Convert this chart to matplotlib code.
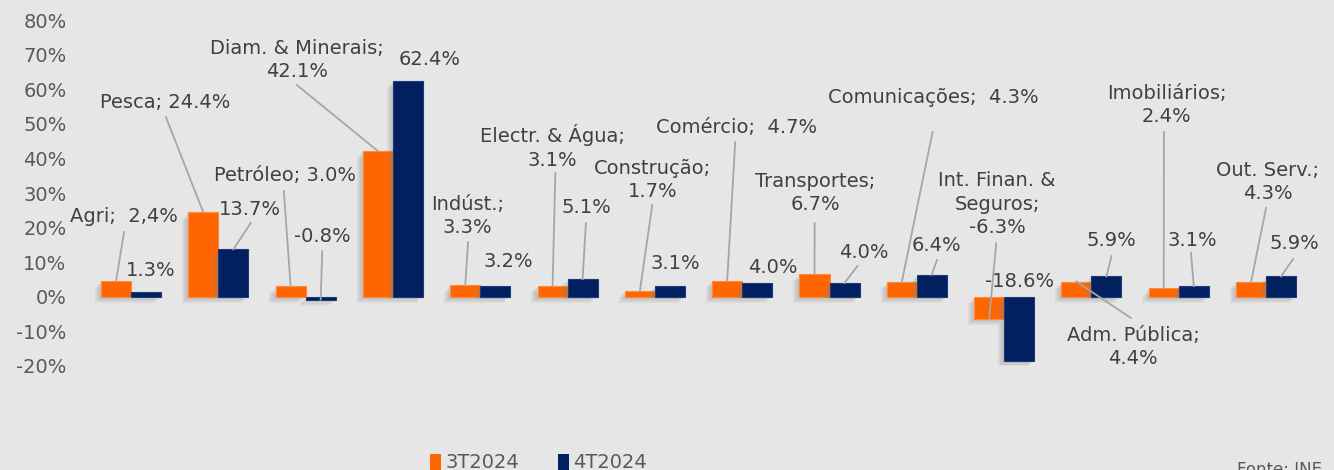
import numpy as np
import matplotlib
matplotlib.use("Agg")
import matplotlib.pyplot as plt
import matplotlib.patheffects as pe
from matplotlib.patches import Patch

# data
categories = ["Agri", "Pesca", "Petróleo", "Diam. & Minerais", "Indúst.", "Electr. & Água",
              "Construção", "Comércio", "Transportes", "Comunicações", "Int. Finan. & Seguros",
              "Adm. Pública", "Imobiliários", "Out. Serv."]
t3_2024 = [4.5, 24.4, 3.0, 42.1, 3.3, 3.1, 1.7, 4.7, 6.7, 4.3, -6.3, 4.4, 2.4, 4.3]
t4_2024 = [1.3, 13.7, -0.8, 62.4, 3.2, 5.1, 3.1, 4.0, 4.0, 6.4, -18.6, 5.9, 3.1, 5.9]

t3_labels = ["Agri;  2,4%", "Pesca; 24.4%", "Petróleo; 3.0%", "Diam. & Minerais;\n42.1%",
             "Indúst.;\n3.3%", "Electr. & Água;\n3.1%", "Construção;\n1.7%", "Comércio;  4.7%",
             "Transportes;\n6.7%", "Comunicações;  4.3%", "Int. Finan. &\nSeguros;\n-6.3%",
             "Adm. Pública;\n4.4%", "Imobiliários;\n2.4%", "Out. Serv.;\n4.3%"]
t4_labels = ["1.3%", "13.7%", "-0.8%", "62.4%", "3.2%", "5.1%", "3.1%", "4.0%", "4.0%",
             "6.4%", "-18.6%", "5.9%", "3.1%", "5.9%"]

# label layout (text centre, start of leader line or None) in data units
t3_pos = [(-0.08, 23.2), (0.39, 56.3), (1.76, 35.2), (1.90, 68.4), (3.85, 23.3), (4.83, 43.3),
          (5.97, 33.8), (6.93, 48.8), (7.84, 30.0), (9.19, 57.5), (9.92, 26.8), (11.48, -14.5),
          (11.86, 55.4), (13.02, 33.2)]
t3_line = [(-0.08, 18.7), (0.40, 51.9), (1.75, 30.6), (1.90, 61.2), (3.86, 15.8), (4.86, 35.8),
           (5.97, 26.5), (6.92, 44.7), (7.83, 21.3), (9.18, 47.6), (9.91, 15.5), (11.45, -6.1),
           (11.83, 47.6), (13.0, 25.7)]
t4_pos = [(0.23, 7.7), (1.36, 25.3), (2.19, 17.3), (3.42, 68.7), (4.32, 10.1), (5.21, 25.7),
          (6.23, 9.5), (7.35, 8.6), (8.39, 12.9), (9.22, 14.7), (10.18, 4.3), (11.23, 16.4),
          (12.15, 16.4), (13.32, 15.5)]
t4_line = [None, (1.37, 21.3), (2.19, 13.2), None, None, (5.21, 21.3), None, None,
           (8.32, 8.9), (9.23, 10.6), None, (11.23, 11.8), (12.14, 12.7), (13.31, 10.9)]

orange = "#ff6600"
navy = "#002060"
bg = "#e6e6e6"
txt = "#404040"
lead = "#a6a6a6"

fig = plt.figure(figsize=(13.34, 4.70), dpi=100, facecolor=bg)
ax = fig.add_axes([0.0655, 0.2213, 0.9163, 0.7361])
ax.set_facecolor(bg)

x = np.arange(len(categories))
w = 0.344
shadow = [pe.SimplePatchShadow(offset=(-4.5, -4.5), shadow_rgbFace="#808080", alpha=0.12),
          pe.SimplePatchShadow(offset=(-3, -3), shadow_rgbFace="#808080", alpha=0.14),
          pe.SimplePatchShadow(offset=(-1.5, -1.5), shadow_rgbFace="#808080", alpha=0.14),
          pe.Normal()]
b1 = ax.bar(x - w / 2, t3_2024, w, color=orange, edgecolor="#ff8a3d", linewidth=0.8,
            label="3T2024", zorder=2)
b2 = ax.bar(x + w / 2, t4_2024, w, color=navy, edgecolor="#1f3a78", linewidth=0.8,
            label="4T2024", zorder=2)
for b in list(b1) + list(b2):
    b.set_path_effects(shadow)

def put_labels(xs, vals, labels, pos, lines):
    for xi, v, s, p, l in zip(xs, vals, labels, pos, lines):
        ax.text(p[0], p[1], s, ha="center", va="center", fontsize=14, color=txt,
                linespacing=1.3, zorder=4)
        if l is not None:
            ax.plot([l[0], xi], [l[1], v], color=lead, lw=1.3, zorder=3)

put_labels(x - w / 2, t3_2024, t3_labels, t3_pos, t3_line)
put_labels(x + w / 2, t4_2024, t4_labels, t4_pos, t4_line)

ax.set_xlim(-0.5, len(categories) - 0.5)
ax.set_ylim(-20, 80)
ax.set_yticks(np.arange(-20, 81, 10))
ax.set_yticklabels([f"{v}%" for v in range(-20, 81, 10)])
ax.set_xticks([])
ax.tick_params(axis="y", length=0, pad=15, labelsize=14, labelcolor="#595959")
for s in ax.spines.values():
    s.set_visible(False)

handles = [Patch(facecolor=orange), Patch(facecolor=navy)]
fig.legend(handles, ["3T2024", "4T2024"], loc="center left",
           bbox_to_anchor=(412 / 1334, 1 - 463 / 470), ncol=2, frameon=False,
           handlelength=0.6, handleheight=0.85, handletextpad=0.2, columnspacing=2.0,
           fontsize=14, labelcolor="#595959")
fig.text(1237 / 1334, 1 - 461 / 470, "Fonte: INE", fontsize=12, color="#595959", va="top")

fig.savefig("out.png", dpi=100, facecolor=bg)
